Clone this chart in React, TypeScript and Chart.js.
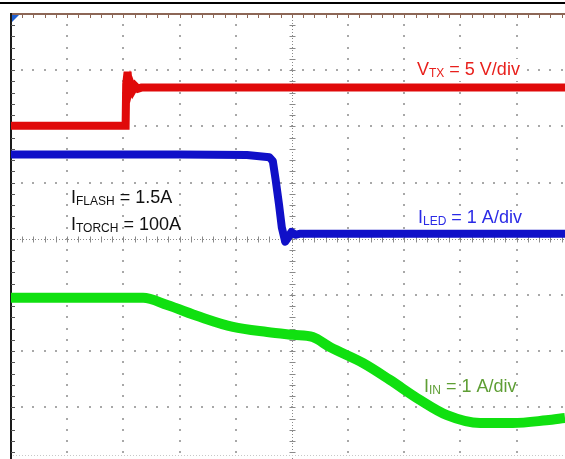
import React, { useEffect, useRef } from "react";
import { Chart, registerables } from "chart.js";

Chart.register(...registerables);

// Scope screen in divisions: x = time divisions from left edge, y = divisions from centre line
const X_MIN = 0;
const X_MAX = 9.86;
const Y_MIN = -3.92;
const Y_MAX = 4;
const X_GRID = [1, 2, 3, 4, 5, 6, 7, 8, 9];
const Y_GRID = [-3, -2, -1, 0, 1, 2, 3];

// V_TX trace (red)
const redX = [0, 2.04, 2.05, 2.075, 2.1, 2.13, 2.17, 2.21, 2.26, 2.32, 9.86];
const redY = [2.01, 2.01, 2.75, 2.97, 2.64, 2.76, 2.65, 2.72, 2.67, 2.69, 2.69];

// I_LED trace (blue)
const blueX = [0, 3.0, 4.2, 4.6, 4.66, 4.71, 4.77, 4.82, 4.88, 4.93, 4.99, 5.06, 5.15, 9.86];
const blueY = [1.5, 1.5, 1.49, 1.45, 1.38, 1.05, 0.61, 0.2, -0.05, 0.02, 0.12, 0.07, 0.09, 0.09];

// I_IN trace (green)
const greenX = [0, 2.35, 2.78, 3.36, 3.95, 4.56, 5.02, 5.37, 5.68, 6.26, 6.74, 7.28, 7.76, 8.35, 8.93, 9.53, 9.86];
const greenY = [-1.05, -1.05, -1.18, -1.39, -1.57, -1.66, -1.71, -1.75, -1.93, -2.21, -2.51, -2.87, -3.14, -3.28, -3.28, -3.23, -3.19];

const labelVtx = { main: "V", sub: "TX", rest: " = 5 V/div" };
const labelLed = { main: "I", sub: "LED", rest: " = 1 A/div" };
const labelIn = { main: "I", sub: "IN", rest: " = 1 A/div" };
const labelFlash = { main: "I", sub: "FLASH", rest: " = 1.5A" };
const labelTorch = { main: "I", sub: "TORCH", rest: " = 100A" };

const toPts = (xs: number[], ys: number[]) => xs.map((x, i) => ({ x, y: ys[i] }));

const FONT = "'Liberation Sans', Arial, sans-serif";

function drawLabel(
  ctx: CanvasRenderingContext2D,
  x: number,
  y: number,
  lab: { main: string; sub: string; rest: string },
  color: string,
  bg: boolean
) {
  ctx.save();
  ctx.textBaseline = "alphabetic";
  ctx.textAlign = "left";
  const big = `18px ${FONT}`;
  const small = `12px ${FONT}`;
  ctx.font = big;
  const w1 = ctx.measureText(lab.main).width;
  const w3 = ctx.measureText(lab.rest).width;
  ctx.font = small;
  const w2 = ctx.measureText(lab.sub).width;
  if (bg) {
    ctx.fillStyle = "#ffffff";
    ctx.fillRect(x - 2, y - 16, w1 + w2 + w3 + 4, 22);
  }
  ctx.fillStyle = color;
  ctx.font = big;
  ctx.fillText(lab.main, x, y);
  ctx.font = small;
  ctx.fillText(lab.sub, x + w1, y + 2);
  ctx.font = big;
  ctx.fillText(lab.rest, x + w1 + w2, y);
  ctx.restore();
}

const gridPlugin = {
  id: "scopeGrid",
  beforeDatasetsDraw(chart: any) {
    const ctx: CanvasRenderingContext2D = chart.ctx;
    const { left, right, top, bottom } = chart.chartArea;
    const xs = chart.scales.x;
    const ys = chart.scales.y;
    ctx.save();
    ctx.fillStyle = "#ffffff";
    ctx.fillRect(0, 0, chart.width, chart.height);
    // graticule dots
    ctx.fillStyle = "#a8a8a8";
    for (const gx of X_GRID) {
      if (gx === 5) continue;
      const px = Math.round(xs.getPixelForValue(gx));
      for (let k = -20; k <= 20; k++) {
        const py = ys.getPixelForValue(k * 0.2);
        if (py < top + 2 || py > bottom) continue;
        ctx.fillRect(px - 1, Math.round(py) - 1, 2, 2);
      }
    }
    for (const gy of Y_GRID) {
      if (gy === 0) continue;
      const py = Math.round(ys.getPixelForValue(gy));
      for (let k = 1; k <= 50; k++) {
        const px = xs.getPixelForValue(k * 0.2);
        if (px > right) continue;
        ctx.fillRect(Math.round(px) - 1, py - 1, 2, 2);
      }
    }
    // centre axes with ticks
    ctx.strokeStyle = "#8a8a8a";
    ctx.lineWidth = 1;
    const cx = Math.round(xs.getPixelForValue(5)) + 0.5;
    const cy = Math.round(ys.getPixelForValue(0)) + 0.5;
    ctx.setLineDash([1, 2]);
    ctx.beginPath();
    ctx.moveTo(cx, top);
    ctx.lineTo(cx, bottom);
    ctx.moveTo(left, cy);
    ctx.lineTo(right, cy);
    ctx.stroke();
    ctx.setLineDash([]);
    ctx.beginPath();
    for (let k = -20; k <= 20; k++) {
      const py = Math.round(ys.getPixelForValue(k * 0.2)) + 0.5;
      if (py < top || py > bottom) continue;
      ctx.moveTo(cx - 3, py);
      ctx.lineTo(cx + 3, py);
    }
    for (let k = 1; k <= 50; k++) {
      const px = Math.round(xs.getPixelForValue(k * 0.2)) + 0.5;
      if (px > right) continue;
      ctx.moveTo(px, cy - 3);
      ctx.lineTo(px, cy + 3);
    }
    ctx.stroke();
    // bottom faint dotted line
    ctx.fillStyle = "#c8c8c8";
    for (let px = left + 2; px < right; px += 3) ctx.fillRect(px, 455, 1, 1);
    // top border with ticks
    ctx.strokeStyle = "#8c6656";
    ctx.lineWidth = 2;
    ctx.beginPath();
    ctx.moveTo(left, top);
    ctx.lineTo(right, top);
    ctx.stroke();
    ctx.lineWidth = 1;
    ctx.beginPath();
    for (let k = 1; k <= 50; k++) {
      const px = Math.round(xs.getPixelForValue(k * 0.2)) + 0.5;
      if (px > right) continue;
      ctx.moveTo(px, top);
      ctx.lineTo(px, top + 4);
    }
    ctx.stroke();
    // left border with ticks
    ctx.strokeStyle = "#1a1a1a";
    ctx.lineWidth = 2;
    ctx.beginPath();
    ctx.moveTo(left, top - 1);
    ctx.lineTo(left, chart.height);
    ctx.stroke();
    ctx.strokeStyle = "#555555";
    ctx.lineWidth = 1;
    ctx.beginPath();
    for (let k = -20; k <= 20; k++) {
      const py = Math.round(ys.getPixelForValue(k * 0.2)) + 0.5;
      if (py < top + 2 || py > bottom) continue;
      ctx.moveTo(left, py);
      ctx.lineTo(left + 4, py);
    }
    ctx.stroke();
    // outer black line at top
    ctx.strokeStyle = "#000000";
    ctx.lineWidth = 2;
    ctx.beginPath();
    ctx.moveTo(0, 3);
    ctx.lineTo(chart.width, 3);
    ctx.stroke();
    // trigger marker
    ctx.fillStyle = "#1f5fd0";
    ctx.beginPath();
    ctx.moveTo(left + 1, top + 1);
    ctx.lineTo(left + 8, top + 1);
    ctx.lineTo(left + 1, top + 8);
    ctx.closePath();
    ctx.fill();
    ctx.restore();
  },
  afterDatasetsDraw(chart: any) {
    const ctx: CanvasRenderingContext2D = chart.ctx;
    drawLabel(ctx, 417, 75, labelVtx, "#e8201c", true);
    drawLabel(ctx, 418, 223, labelLed, "#2a2ae6", true);
    drawLabel(ctx, 424, 392, labelIn, "#5e9e34", false);
    drawLabel(ctx, 71, 203, labelFlash, "#111111", false);
    drawLabel(ctx, 71, 230, labelTorch, "#111111", false);
  },
};

export default function App() {
  const ref = useRef<HTMLCanvasElement | null>(null);
  useEffect(() => {
    if (!ref.current) return;
    const chart = new Chart(ref.current, {
      type: "line",
      data: {
        datasets: [
          {
            data: toPts(greenX, greenY),
            borderColor: "#10e010",
            borderWidth: 10,
            pointRadius: 0,
            cubicInterpolationMode: "monotone",
            borderCapStyle: "butt",
          },
          {
            data: toPts(blueX, blueY),
            borderColor: "#1010c8",
            borderWidth: 8,
            pointRadius: 0,
            tension: 0,
            borderJoinStyle: "round",
          },
          {
            data: toPts(redX, redY),
            borderColor: "#e00a0a",
            borderWidth: 8,
            pointRadius: 0,
            tension: 0,
            borderJoinStyle: "miter",
          },
        ],
      },
      options: {
        animation: false,
        responsive: false,
        devicePixelRatio: 1,
        layout: { padding: { left: 11, top: 14, right: 0, bottom: 0 } },
        plugins: { legend: { display: false }, tooltip: { enabled: false } },
        scales: {
          x: { type: "linear", min: X_MIN, max: X_MAX, display: false },
          y: { type: "linear", min: Y_MIN, max: Y_MAX, display: false },
        },
      },
      plugins: [gridPlugin],
    } as any);
    return () => chart.destroy();
  }, []);
  return (
    <div style={{ position: "absolute", left: 0, top: 0, width: 565, height: 459, background: "#fff" }}>
      <canvas ref={ref} width={565} height={459} style={{ display: "block" }} />
    </div>
  );
}
